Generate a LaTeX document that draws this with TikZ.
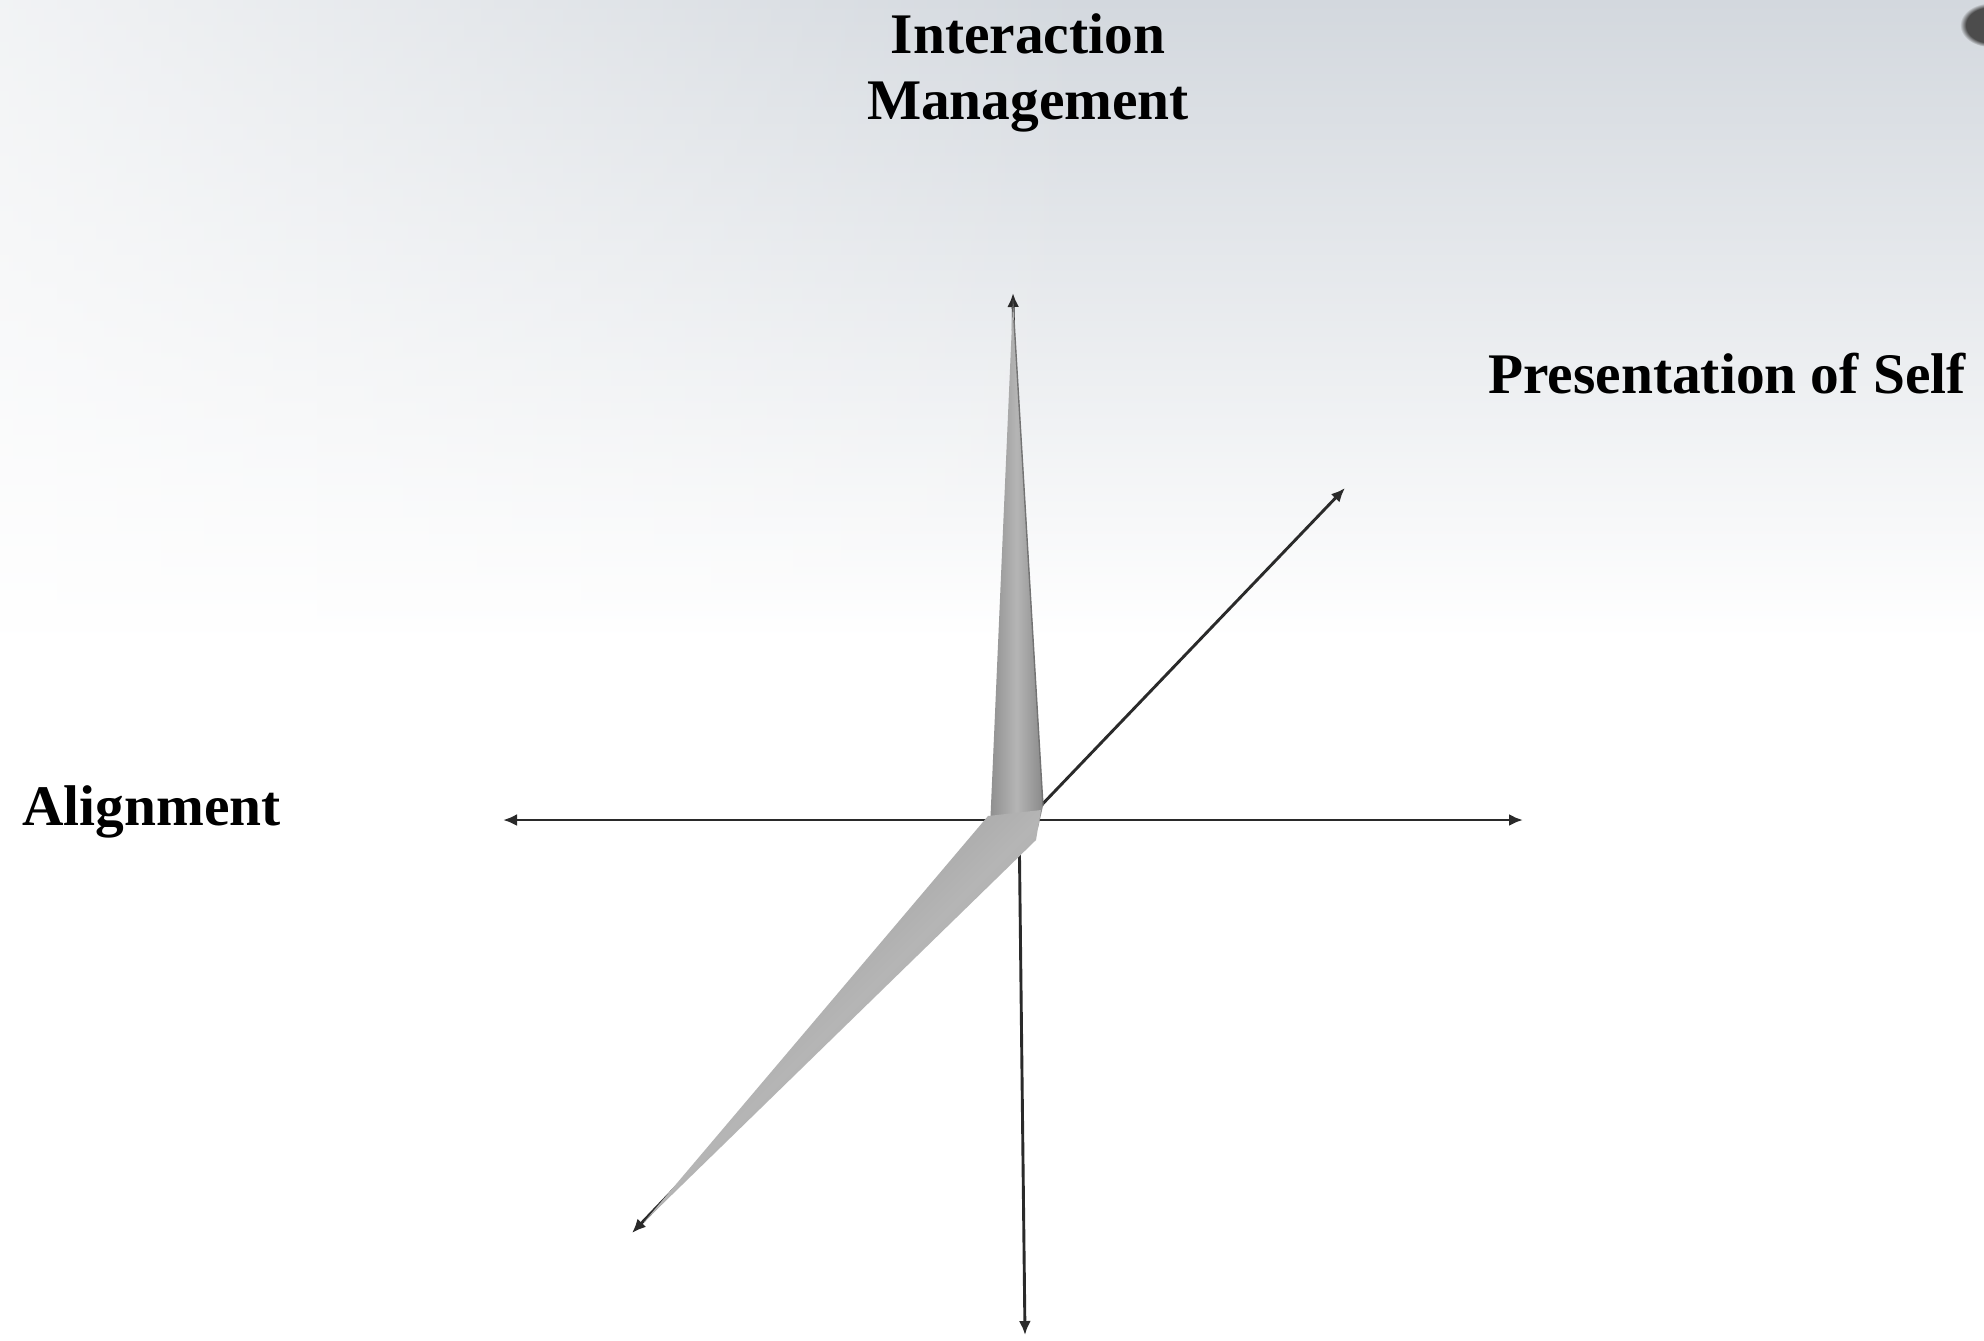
\documentclass[tikz,border=0pt]{standalone}
\usepackage{fontspec}
\setmainfont{Liberation Serif}
\usetikzlibrary{arrows.meta,fadings}
\tikzfading[name=fadetoright, left color=transparent!0, right color=transparent!100]
\definecolor{skyg}{HTML}{D3D8DE}
\definecolor{axisc}{HTML}{2A2A2A}
\begin{document}
\begin{tikzpicture}[x=0.5pt,y=-0.5pt,
  axis/.style={line width=1.45pt, draw=axisc, {Latex[length=7pt,width=6pt]}-{Latex[length=7pt,width=6pt]}},
  lbl/.style={font=\fontsize{28.7}{33}\selectfont\bfseries, inner sep=0pt, text=black},
  wedge/.style={draw=none}
]
\useasboundingbox (0,0) rectangle (1984,1340);
% background
\fill[white] (0,0) rectangle (1984,1340);
\shade[top color=skyg, bottom color=white] (0,0) rectangle (1984,640);
\fill[white, path fading=fadetoright, opacity=0.7] (0,0) rectangle (1100,640);
\fill[black!70, path fading=circle with fuzzy edge 20 percent] (1990,25) ellipse (30 and 22);

% axis end points
\coordinate (top) at (1013,293);
\coordinate (bot) at (1025,1335);
\coordinate (lft) at (503,820);
\coordinate (rgt) at (1523,820);
\coordinate (ur) at (1345,488);
\coordinate (dl) at (632,1233);

\draw[axis] (lft) -- (rgt);
\draw[axis] (bot) -- (top);
\draw[axis] (dl) -- (ur);

% gray spike and wedge
\shade[wedge, left color=gray!88, right color=gray!92, middle color=gray!58]
  (1013,300) -- (1043,806) -- (1038,828) -- (990,828) -- cycle;
\shade[wedge, left color=gray!88, right color=gray!85, middle color=gray!58, shading angle=45]
  (988,816) -- (1041,810) -- (1036,840) -- (644,1222) -- cycle;
\draw[black!55, line width=0.7pt] (1014,320) -- (1043,806);

% labels
\node[lbl, align=center, anchor=north] (im) at (1028,13) {Interaction\\Management};
\node[lbl, anchor=base west] (ps) at (1488,393) {Presentation of Self};
\node[lbl, anchor=base west] (al) at (22,825) {Alignment};
\end{tikzpicture}
\end{document}
